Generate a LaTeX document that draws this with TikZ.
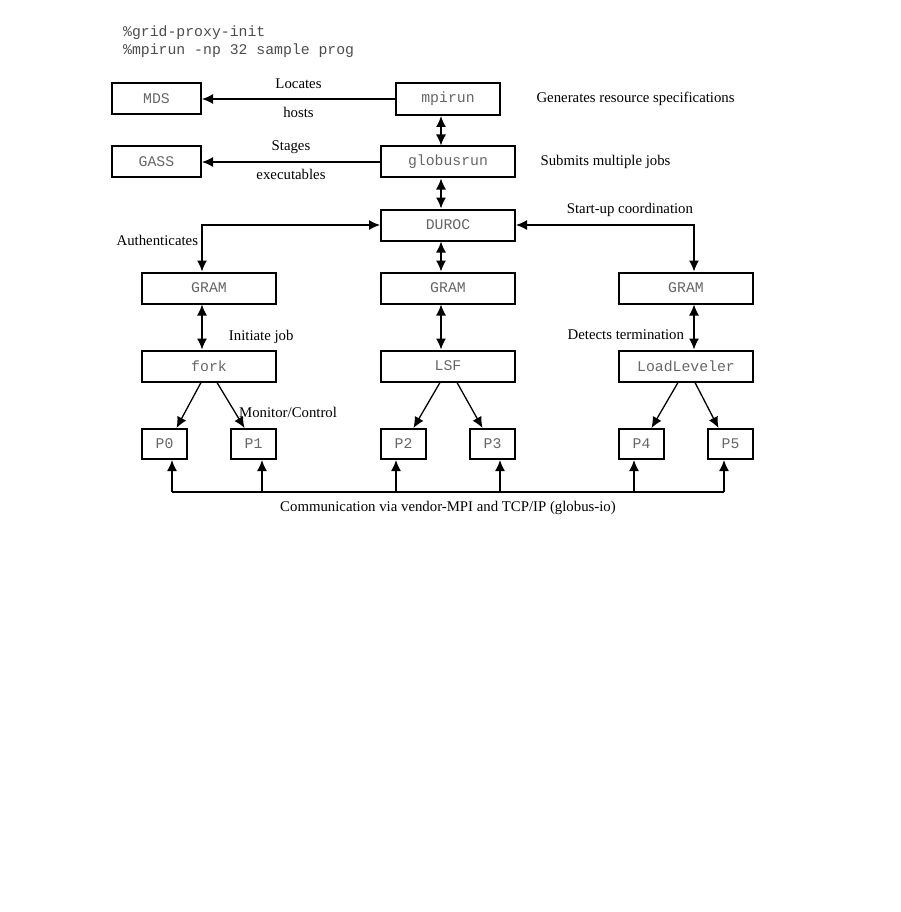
\documentclass[tikz,border=0pt]{standalone}
\usepackage{fontspec}
\setmainfont{Liberation Serif}
\setmonofont{Liberation Mono}
\usepackage{tikz}
\usetikzlibrary{arrows.meta, positioning}
\tikzstyle{box} = [rectangle, minimum width=134pt, minimum height=31pt, inner sep=0pt, draw=black, line width=2pt, text=black!60, font=\fontsize{14.8pt}{17pt}\selectfont\ttfamily]
\tikzstyle{smallbox} = [box, minimum width=89pt]
\tikzstyle{pbox} = [box, minimum width=45pt, minimum height=30pt]
\tikzstyle{lbl} = [font=\fontsize{14.8pt}{17pt}\selectfont]
\tikzstyle{cmd} = [anchor=west, inner sep=0pt, text=black!70, font=\fontsize{14.8pt}{17pt}\selectfont\ttfamily]
\tikzstyle{arrow} = [-{Latex[length=11pt, width=10pt]}, line width=1.3pt]
\tikzstyle{darrow} = [{Latex[length=11pt, width=10pt]}-{Latex[length=11pt, width=10pt]}, line width=1.3pt]

\begin{document}
\begin{tikzpicture}[x=1pt, y=1pt, node distance=63pt]
\useasboundingbox (0,0) rectangle (901,-912);
\node (cmd1) [cmd] at (123,-33) {\%grid-proxy-init};
\node (cmd2) [cmd] at (123,-51) {\%mpirun -np 32 sample prog};

\node (mpirun) [box, minimum width=104pt, minimum height=32pt] at (448,-99) {mpirun};
\node (globusrun) [box, below of=mpirun] {globusrun};
\node (duroc) [box, below of=globusrun] {DUROC};
\node (mds) [smallbox, left of=mpirun, xshift=-228.5pt] {MDS};
\node (gass) [smallbox, below of=mds] {GASS};
\node (gramM) [box, below of=duroc] {GRAM};
\node (gramL) [box, below of=duroc, xshift=-239pt] {GRAM};
\node (gramR) [box, below of=duroc, xshift=238pt] {GRAM};
\node (fork) [box, below of=gramL, yshift=-15pt] {fork};
\node (lsf) [box, below of=gramM, yshift=-15pt] {LSF};
\node (loadl) [box, below of=gramR, yshift=-15pt] {LoadLeveler};
\node (p0) [pbox, below of=fork, yshift=-15pt, xshift=-44.5pt] {P0};
\node (p1) [pbox, below of=fork, yshift=-15pt, xshift=44.5pt] {P1};
\node (p2) [pbox, below of=lsf, yshift=-15pt, xshift=-44.5pt] {P2};
\node (p3) [pbox, below of=lsf, yshift=-15pt, xshift=44.5pt] {P3};
\node (p4) [pbox, below of=loadl, yshift=-15pt, xshift=-44.5pt] {P4};
\node (p5) [pbox, below of=loadl, yshift=-15pt, xshift=44.5pt] {P5};
\node (gen) [lbl, right of=mpirun, xshift=22pt, anchor=west] {Generates resource specifications};
\node (submit) [lbl, right of=globusrun, xshift=26pt, anchor=west] {Submits multiple jobs};

\draw[arrow] (mpirun) -- (mds) node[lbl, midway, yshift=15pt] (locates) {Locates} node[lbl, midway, yshift=-13pt] (hosts) {hosts};
\draw[arrow] (globusrun) -- (gass) node[lbl, midway, yshift=15pt] (stages) {Stages} node[lbl, midway, yshift=-12pt] (execs) {executables};
\draw[darrow] ([xshift=-7pt]mpirun.south) -- ([xshift=-7pt]globusrun.north);
\draw[darrow] ([xshift=-7pt]globusrun.south) -- ([xshift=-7pt]duroc.north);
\draw[darrow] ([xshift=-7pt]duroc.south) -- ([xshift=-7pt]gramM.north);
\draw[darrow] (duroc.west) -| ([xshift=-7pt]gramL.north) node[lbl, pos=0.67, left] (auth) {Authenticates};
\draw[darrow] (duroc.east) -| ([xshift=8pt]gramR.north) node[lbl, pos=0.32, yshift=15pt] (startup) {Start-up coordination};
\draw[darrow] ([xshift=-7pt]gramL.south) -- ([xshift=-7pt]fork.north) node[lbl, pos=0.72, right, xshift=23pt] (initjob) {Initiate job};
\draw[darrow] ([xshift=-7pt]gramM.south) -- ([xshift=-7pt]lsf.north);
\draw[darrow] ([xshift=8pt]gramR.south) -- ([xshift=8pt]loadl.north) node[lbl, pos=0.66, left, xshift=-6pt] (detects) {Detects termination};

\draw[arrow] ([xshift=-8pt]fork.south) -- ([xshift=12pt]p0.north);
\draw[arrow] ([xshift=8pt]fork.south) -- ([xshift=-9pt]p1.north) node[lbl, pos=0.66, right] (monitor) {Monitor/Control};
\draw[arrow] ([xshift=-8pt]lsf.south) -- ([xshift=10pt]p2.north);
\draw[arrow] ([xshift=9pt]lsf.south) -- ([xshift=-10pt]p3.north);
\draw[arrow] ([xshift=-8pt]loadl.south) -- ([xshift=10pt]p4.north);
\draw[arrow] ([xshift=9pt]loadl.south) -- ([xshift=-12pt]p5.north);

% communication bus
\coordinate (busL) at ([xshift=7.5pt, yshift=-32pt]p0.south);
\coordinate (busR) at ([xshift=-6.5pt, yshift=-32pt]p5.south);
\draw[line width=1.3pt] (busL) -- (busR) node[lbl, midway, yshift=-16pt] (comm) {Communication via vendor-MPI and TCP/IP (globus-io)};
\draw[arrow] (busL) -- ([xshift=7.5pt]p0.south);
\draw[arrow] ([xshift=8.5pt, yshift=-32pt]p1.south) -- ([xshift=8.5pt]p1.south);
\draw[arrow] ([xshift=-7.5pt, yshift=-32pt]p2.south) -- ([xshift=-7.5pt]p2.south);
\draw[arrow] ([xshift=7.5pt, yshift=-32pt]p3.south) -- ([xshift=7.5pt]p3.south);
\draw[arrow] ([xshift=-7.5pt, yshift=-32pt]p4.south) -- ([xshift=-7.5pt]p4.south);
\draw[arrow] (busR) -- ([xshift=-6.5pt]p5.south);
\end{tikzpicture}
\end{document}
